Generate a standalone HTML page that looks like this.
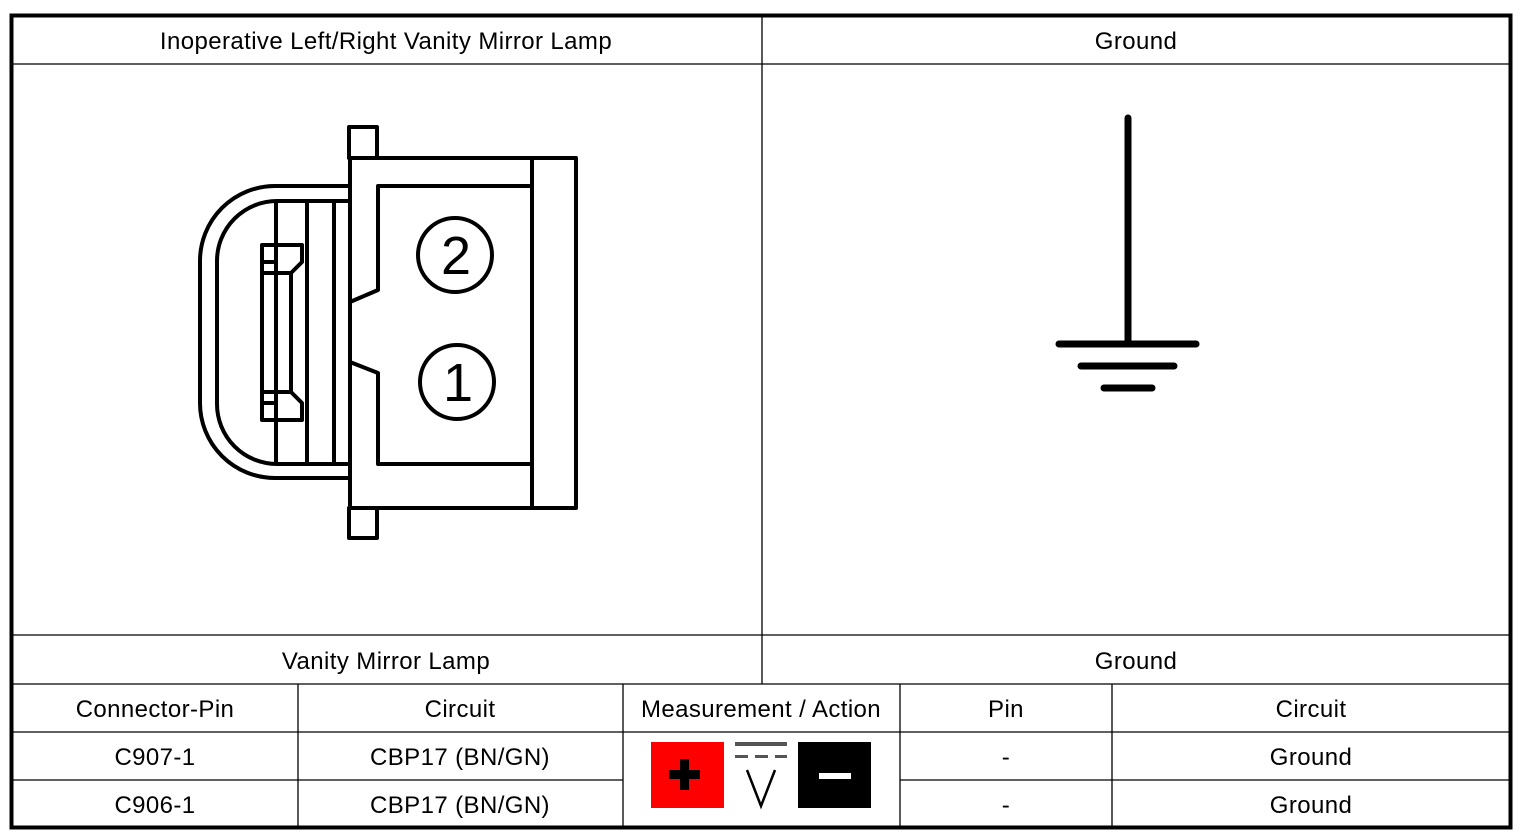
<!DOCTYPE html>
<html><head><meta charset="utf-8"><style>
html,body{margin:0;padding:0;background:#fff;width:1526px;height:838px;overflow:hidden}
svg{position:absolute;left:0;top:0}
text{font-family:"Liberation Sans",Arial,sans-serif;font-size:24px;letter-spacing:0.4px;fill:#000}
</style></head><body>
<svg width="1526" height="838" viewBox="0 0 1526 838">
<rect x="11.5" y="15.5" width="1499" height="812" fill="none" stroke="#000" stroke-width="4"/>
<g stroke="#000" stroke-width="1.3" fill="none">
<line x1="12" y1="64" x2="1510" y2="64"/>
<line x1="12" y1="635" x2="1510" y2="635"/>
<line x1="12" y1="684" x2="1510" y2="684"/>
<line x1="12" y1="732" x2="1510" y2="732"/>
<line x1="12" y1="780" x2="623" y2="780"/>
<line x1="900" y1="780" x2="1510" y2="780"/>
<line x1="762" y1="16" x2="762" y2="684"/>
<line x1="298" y1="684" x2="298" y2="828"/>
<line x1="623" y1="684" x2="623" y2="828"/>
<line x1="900" y1="684" x2="900" y2="828"/>
<line x1="1112" y1="684" x2="1112" y2="828"/>
</g>
<g text-anchor="middle">
<text x="386" y="49">Inoperative Left/Right Vanity Mirror Lamp</text>
<text x="1136" y="49">Ground</text>
<text x="386" y="669">Vanity Mirror Lamp</text>
<text x="1136" y="669">Ground</text>
<text x="155" y="717">Connector-Pin</text>
<text x="460" y="717">Circuit</text>
<text x="761" y="717">Measurement / Action</text>
<text x="1006" y="717">Pin</text>
<text x="1311" y="717">Circuit</text>
<text x="155" y="765">C907-1</text>
<text x="460" y="765">CBP17 (BN/GN)</text>
<text x="1006" y="765">-</text>
<text x="1311" y="765">Ground</text>
<text x="155" y="813">C906-1</text>
<text x="460" y="813">CBP17 (BN/GN)</text>
<text x="1006" y="813">-</text>
<text x="1311" y="813">Ground</text>
</g>
<rect x="651" y="742" width="73" height="66" fill="#ff0000"/>
<rect x="669" y="770" width="31" height="9" fill="#000"/>
<rect x="680" y="759" width="9" height="31" fill="#000"/>
<rect x="735" y="742" width="52" height="4" fill="#555"/>
<g fill="#555"><rect x="735" y="755" width="13" height="3"/><rect x="755" y="755" width="13" height="3"/><rect x="775" y="755" width="12" height="3"/></g>
<path d="M747 770 L761 806 L775 770" stroke="#000" stroke-width="2.5" fill="none"/>
<rect x="798" y="742" width="73" height="66" fill="#000"/>
<rect x="819" y="773" width="32" height="6" fill="#fff"/>
<g stroke="#000" stroke-width="7" stroke-linecap="round">
<line x1="1128" y1="118" x2="1128" y2="343"/>
<line x1="1059" y1="344" x2="1196" y2="344"/>
<line x1="1081" y1="366" x2="1174" y2="366"/>
<line x1="1104" y1="388" x2="1152" y2="388"/>
</g>
<g stroke="#000" stroke-width="4" fill="none" stroke-linejoin="round">
<rect x="349" y="127" width="28" height="31" fill="#fff"/>
<rect x="349" y="508" width="28" height="30" fill="#fff"/>
<path d="M350 186 H275 A75 75 0 0 0 200 261 V403 A75 75 0 0 0 275 478 H350"/>
<path d="M350 201 H277 A60 60 0 0 0 217 261 V404 A60 60 0 0 0 277 464 H350"/>
<line x1="276" y1="201" x2="276" y2="464"/>
<line x1="307" y1="203" x2="307" y2="464"/>
<line x1="334" y1="203" x2="334" y2="464"/>
<path d="M262 245 H302 V262 L291 273 V392 L302 403 V420 H262 Z"/>
<line x1="262" y1="262" x2="276" y2="262"/>
<line x1="262" y1="273" x2="291" y2="273"/>
<line x1="262" y1="392" x2="291" y2="392"/>
<line x1="262" y1="403" x2="276" y2="403"/>
<rect x="350" y="158" width="226" height="350" fill="#fff"/>
<line x1="532" y1="158" x2="532" y2="508"/>
<path d="M532 186 H378 V290 L350 302 M350 362 L378 373 V464 H532"/>
<circle cx="455" cy="255" r="37"/>
<circle cx="457" cy="382" r="37"/>
</g>
<text x="456" y="274" text-anchor="middle" style="font-size:54px;letter-spacing:0">2</text>
<text x="458" y="401" text-anchor="middle" style="font-size:54px;letter-spacing:0">1</text>
</svg>
</body></html>
